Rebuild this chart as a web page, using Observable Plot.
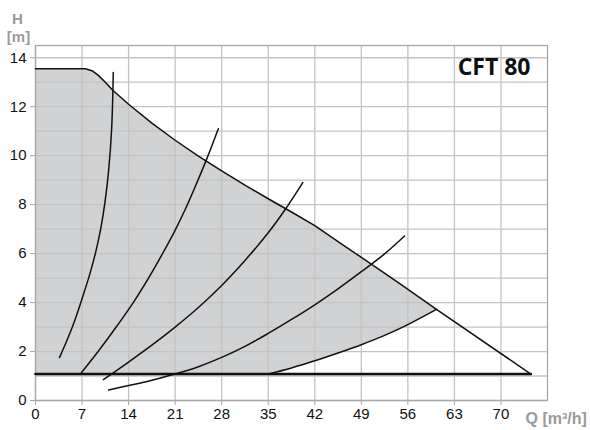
<!DOCTYPE html>
<html><head><meta charset="utf-8">
<script src="https://cdn.jsdelivr.net/npm/d3@7"></script>
<script src="https://cdn.jsdelivr.net/npm/@observablehq/plot@0.6"></script>
<style>body{margin:0;background:#fff} svg{display:block}</style>
</head><body><div id="chart"></div>
<script>
const qTicks = [0, 7, 14, 21, 28, 35, 42, 49, 56, 63, 70];
const hTicks = [0, 2, 4, 6, 8, 10, 12, 14];
const hGrid = [0, 1, 2, 3, 4, 5, 6, 7, 8, 9, 10, 11, 12, 13, 14];
const title = "CFT 80";

// minimum head line
const minH = 1.08;
const minLineQ = [0, 74.5];

// max curve (envelope top)
const topQ = [0, 7.5, 8.5, 9.5, 10.5, 11.7, 14, 17.5, 21, 24.5, 28, 31.5, 35, 38.5, 42, 46, 50.5, 55, 60.3];
const topH = [13.55, 13.55, 13.47, 13.27, 13.0, 12.65, 12.1, 11.33, 10.63, 9.98, 9.38, 8.8, 8.24, 7.7, 7.14, 6.4, 5.57, 4.73, 3.72];
const endQ = 74.5;

// lower right boundary of the operating area
const lowQ = [35, 38.5, 42, 45.5, 49, 52.5, 56, 60.3];
const lowH = [1.08, 1.33, 1.62, 1.94, 2.28, 2.66, 3.1, 3.72];

// system curves
const sys1Q = [3.6, 4.8, 5.95, 7.05, 8.1, 9.0, 9.8, 10.45, 11.0, 11.45, 11.7];
const sys1H = [1.75, 2.5, 3.3, 4.2, 5.1, 6.0, 7.0, 8.1, 9.4, 11.1, 13.4];
const sys2Q = [6.75, 9.5, 12, 14.7, 17, 19, 20.8, 22.6, 24.2, 25.8, 27.5];
const sys2H = [1.08, 2.03, 2.95, 4.0, 5.0, 5.95, 6.85, 7.85, 8.85, 9.9, 11.1];
const sys3Q = [10.2, 14, 17.5, 21, 24.5, 28, 31.5, 35, 37.5, 40.2];
const sys3H = [0.85, 1.57, 2.26, 3.0, 3.8, 4.7, 5.72, 6.85, 7.78, 8.9];
const sys4Q = [11, 14, 17.5, 21, 24.5, 28, 31.5, 35, 38.5, 42, 45.5, 49, 52.5, 55.5];
const sys4H = [0.43, 0.61, 0.83, 1.08, 1.38, 1.76, 2.21, 2.74, 3.31, 3.91, 4.56, 5.26, 5.99, 6.72];

const toPts = (qs, hs) => qs.map((q, i) => ({q, h: hs[i]}));
const fillPts = [...toPts(topQ, topH), ...toPts(lowQ, lowH).reverse(), {q: 0, h: minH}];
const envPts = [...toPts(topQ, topH), {q: endQ, h: minH}];
const minPts = minLineQ.map(q => ({q, h: minH}));
const systems = [[sys1Q, sys1H], [sys2Q, sys2H], [sys3Q, sys3H], [sys4Q, sys4H]];

const font = "Liberation Sans, Arial, sans-serif";
const chart = Plot.plot({
  width: 590, height: 430,
  marginLeft: 35, marginRight: 43, marginTop: 45, marginBottom: 30,
  x: {domain: [0, 77]},
  y: {domain: [0, 14.5]},
  style: {fontFamily: font, fontSize: "15px", background: "#fff"},
  marks: [
    Plot.line(fillPts, {x: "q", y: "h", fill: "#d1d2d4", stroke: "none"}),
    Plot.gridX(qTicks, {stroke: "#c3c3c3", strokeOpacity: 1, strokeWidth: 1.3}),
    Plot.gridY(hGrid, {stroke: "#c3c3c3", strokeOpacity: 1, strokeWidth: 1.3}),
    Plot.frame({stroke: "#a8a8a8", strokeWidth: 1.3}),
    Plot.axisX(qTicks, {tickSize: 5, tickPadding: 3, stroke: "#a8a8a8", fill: "#111", fontSize: 15, label: null}),
    Plot.axisY(hTicks, {tickSize: 5, tickPadding: 4, stroke: "#a8a8a8", fill: "#111", fontSize: 15, label: null}),
    Plot.line(toPts(lowQ, lowH), {x: "q", y: "h", stroke: "#111", strokeWidth: 1.5, curve: "catmull-rom"}),
    ...systems.map(([qs, hs]) => Plot.line(toPts(qs, hs), {x: "q", y: "h", stroke: "#111", strokeWidth: 1.5, curve: "catmull-rom"})),
    Plot.line(envPts, {x: "q", y: "h", stroke: "#111", strokeWidth: 1.5, curve: "linear"}),
    Plot.line(minPts, {x: "q", y: "h", stroke: "#111", strokeWidth: 2.6}),
    Plot.text([title], {frameAnchor: "top-right", textAnchor: "end", lineAnchor: "middle", dx: -17, dy: 22, fontSize: 23, fontWeight: "bold", fontFamily: "Open Sans", fill: "#111", text: d => d}),
    Plot.text(["H"], {frameAnchor: "top-left", textAnchor: "middle", lineAnchor: "middle", dx: -18, dy: -26, fontSize: 15, fontWeight: "bold", fill: "#9a9a9a", text: d => d}),
    Plot.text(["[m]"], {frameAnchor: "top-left", textAnchor: "middle", lineAnchor: "middle", dx: -17, dy: -8, fontSize: 15, fontWeight: "bold", fill: "#9a9a9a", text: d => d}),
    Plot.text(["Q [m³/h]"], {frameAnchor: "bottom-right", textAnchor: "start", lineAnchor: "middle", dx: -22, dy: 18, fontSize: 16, fontWeight: "bold", fill: "#9a9a9a", text: d => d})
  ]
});
document.getElementById("chart").appendChild(chart);
</script>
</body></html>
